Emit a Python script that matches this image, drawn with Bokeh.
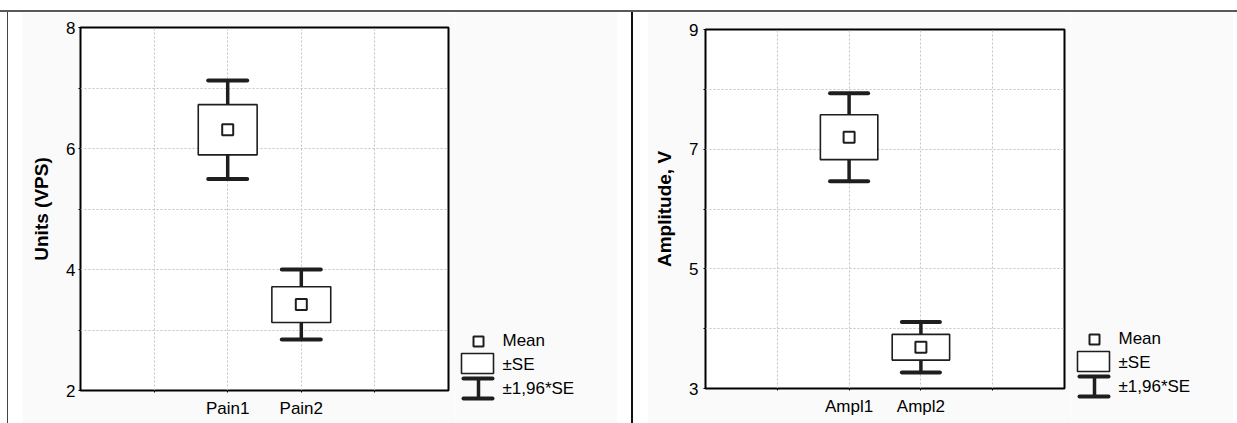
from bokeh.plotting import figure
from bokeh.models import Range1d, FixedTicker, Div, Spacer, ColumnDataSource
from bokeh.layouts import row, column
from bokeh.embed import file_html
from bokeh.resources import INLINE
from bokeh.core.properties import value

# ---------------- data ----------------
pain_names = ["Pain1", "Pain2"]
pain_mean = [6.31, 3.42]
pain_se = [0.415, 0.295]

ampl_names = ["Ampl1", "Ampl2"]
ampl_mean = [7.20, 3.69]
ampl_se = [0.375, 0.215]

pain_yticks = [2, 4, 6, 8]
ampl_yticks = [3, 5, 7, 9]

legend_labels = ["Mean", "±SE", "±1,96*SE"]
CI_FACTOR = 1.96

# ---------------- style ----------------
FONT = "Liberation Sans"
INK = "#1e1e1e"
PANEL_BG = "#fafafa"
GRID = "#c4c4c4"
BOX_HALF = 0.40
CAP_HALF = 0.265
TXT = "17px"


def make_chart(names, means, ses, yticks, ylabel, width, height,
               mb_top, mb_bottom, mb_left, mb_right, tick_standoff, title_standoff):
    n = len(names)
    xs = [i + 2 for i in range(n)]
    src = ColumnDataSource(dict(
        x=xs,
        mean=means,
        lo_se=[m - s for m, s in zip(means, ses)],
        hi_se=[m + s for m, s in zip(means, ses)],
        lo_ci=[m - CI_FACTOR * s for m, s in zip(means, ses)],
        hi_ci=[m + CI_FACTOR * s for m, s in zip(means, ses)],
        bl=[x - BOX_HALF for x in xs],
        br=[x + BOX_HALF for x in xs],
        cl=[x - CAP_HALF for x in xs],
        cr=[x + CAP_HALF for x in xs],
    ))
    p = figure(width=width, height=height, output_backend="svg", toolbar_location=None,
               x_range=Range1d(0, n + 3), y_range=Range1d(yticks[0], yticks[-1]),
               min_border_top=mb_top, min_border_bottom=mb_bottom,
               min_border_left=mb_left, min_border_right=mb_right)
    p.margin = 0
    p.border_fill_color = PANEL_BG
    p.background_fill_color = "#ffffff"
    p.outline_line_color = "#000000"
    p.outline_line_width = 2

    # axes
    minor_y = [(a + b) / 2 for a, b in zip(yticks[:-1], yticks[1:])]
    p.yaxis.ticker = FixedTicker(ticks=yticks, minor_ticks=minor_y)
    p.xaxis.ticker = FixedTicker(ticks=xs, minor_ticks=[1, n + 2])
    p.xaxis.major_label_overrides = {x: nm for x, nm in zip(xs, names)}
    for ax in (p.xaxis[0], p.yaxis[0]):
        ax.axis_line_color = None
        ax.major_tick_in = 0
        ax.major_tick_out = 2
        ax.minor_tick_in = 0
        ax.minor_tick_out = 2
        ax.major_tick_line_color = "#000000"
        ax.minor_tick_line_color = "#000000"
        ax.major_label_text_font = FONT
        ax.major_label_text_font_size = TXT
        ax.major_label_text_color = "#000000"
    p.xaxis.major_label_standoff = 6
    p.yaxis.major_label_standoff = tick_standoff
    p.yaxis.axis_label = ylabel
    p.yaxis.axis_label_text_font = FONT
    p.yaxis.axis_label_text_font_size = "19px"
    p.yaxis.axis_label_text_font_style = "bold"
    p.yaxis.axis_label_text_color = "#000000"
    p.yaxis.axis_label_standoff = title_standoff

    for g in (p.xgrid[0], p.ygrid[0]):
        g.grid_line_color = GRID
        g.grid_line_dash = "2 2"
        g.grid_line_width = 1
        g.minor_grid_line_color = GRID
        g.minor_grid_line_dash = "2 2"
        g.minor_grid_line_width = 1

    # whisker stems, caps
    p.segment(x0="x", y0="lo_ci", x1="x", y1="hi_ci", source=src,
              line_color=INK, line_width=3.5)
    p.segment(x0="cl", y0="hi_ci", x1="cr", y1="hi_ci", source=src,
              line_color=INK, line_width=4, line_cap="round")
    p.segment(x0="cl", y0="lo_ci", x1="cr", y1="lo_ci", source=src,
              line_color=INK, line_width=4, line_cap="round")
    # +-SE box
    p.quad(left="bl", right="br", bottom="lo_se", top="hi_se", source=src,
           fill_color="#ffffff", line_color=INK, line_width=1.6)
    # mean
    p.scatter(x="x", y="mean", source=src, marker="square", size=11,
              fill_color="#ffffff", line_color=INK, line_width=2)
    return p


def make_legend(width, height, base):
    lg = figure(width=width, height=height, output_backend="svg", toolbar_location=None,
                x_range=Range1d(0, width), y_range=Range1d(height, 0),
                x_axis_location=None, y_axis_location=None,
                min_border=0, min_border_left=0, min_border_right=0,
                min_border_top=0, min_border_bottom=0)
    lg.margin = 0
    lg.grid.visible = False
    lg.outline_line_color = None
    lg.border_fill_color = PANEL_BG
    lg.background_fill_color = PANEL_BG
    # Mean icon
    lg.scatter(x=[23], y=[base - 57], marker="square", size=10,
               fill_color="#ffffff", line_color=INK, line_width=2)
    # SE box icon
    lg.quad(left=[6], right=[38], top=[base - 45], bottom=[base - 25],
            fill_color="#ffffff", line_color=INK, line_width=1.6)
    # whisker icon
    lg.segment(x0=[23], x1=[23], y0=[base - 20], y1=[base], line_color=INK, line_width=3.5)
    lg.segment(x0=[8, 8], x1=[37, 37], y0=[base - 20, base], y1=[base - 20, base],
               line_color=INK, line_width=4, line_cap="round")
    lg.text(x=[47, 47, 47], y=[base - 58, base - 34, base - 10], text=legend_labels,
            text_font=value(FONT), text_font_size=value(TXT),
            text_baseline="middle", text_align="left", text_color="#000000")
    return lg


H = 411
p1 = make_chart(pain_names, pain_mean, pain_se, pain_yticks, "Units (VPS)",
                433, H, 15, 33, 58, 7, 3, 11)
p2 = make_chart(ampl_names, ampl_mean, ampl_se, ampl_yticks, "Amplitude, V",
                424, H, 17, 35, 58, 7, 5, 11)
leg1 = make_legend(162, H, H - 33 + 8)
leg2 = make_legend(162, H, H - 35 + 8)


def vline(w, color):
    return Div(text="", width=w, height=H, margin=0,
               styles={"background-color": color})


def gap(w):
    return Spacer(width=w, height=H, margin=0)


def box(item):
    return column(item, spacing=0, margin=0)


top_gap = Spacer(width=1237, height=10, margin=0)
top_line = Div(text="", width=1237, height=2, margin=0,
               styles={"background-color": "#595959"})

body = row(
    gap(7),
    vline(1, "#444444"),
    gap(14),
    box(p1), box(leg1),
    gap(14),
    vline(2, "#111111"),
    gap(14),
    box(p2), box(leg2),
    gap(4),
    spacing=0, margin=0,
)
layout = column(top_gap, top_line, body, spacing=0, margin=0)

open("out.html", "w").write(file_html(layout, INLINE))
